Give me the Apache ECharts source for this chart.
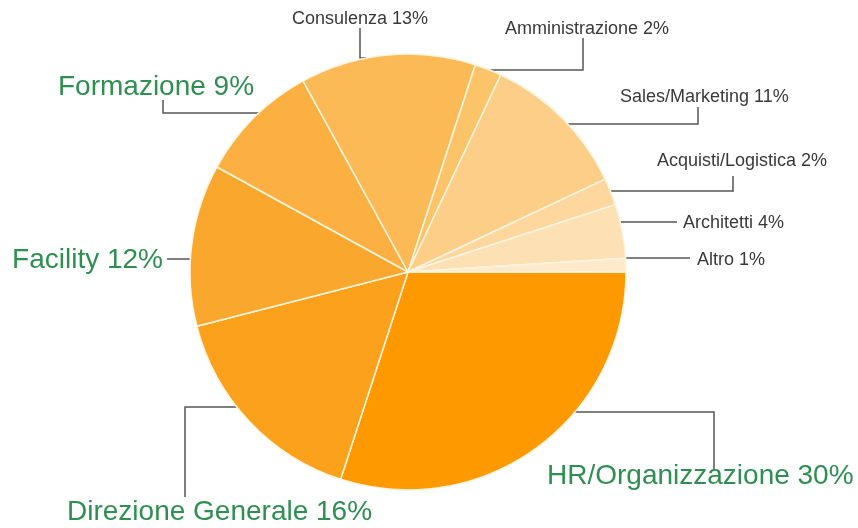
<!DOCTYPE html>
<html>
<head>
<meta charset="utf-8">
<script src="https://cdn.jsdelivr.net/npm/echarts@6/dist/echarts.min.js"></script>
<style>
html,body{margin:0;padding:0;background:#fff;}
#chart{width:858px;height:528px;}
</style>
</head>
<body>
<div id="chart"></div>
<script>
// ---- data ----
var categories = ['HR/Organizzazione', 'Direzione Generale', 'Facility', 'Formazione', 'Consulenza',
                  'Amministrazione', 'Sales/Marketing', 'Acquisti/Logistica', 'Architetti', 'Altro'];
var values = [30, 16, 12, 9, 13, 2, 11, 2, 4, 1];
var highlighted = ['HR/Organizzazione', 'Direzione Generale', 'Facility', 'Formazione'];

// ---- style / layout ----
var colors = ['#FF9900', '#FBA11C', '#FAA72E', '#FBB041', '#FCBA56',
              '#FCC469', '#FDCE88', '#FDD79E', '#FDE0B3', '#FEE9CB'];
var CX = 408, CY = 272, R = 218;
// text anchor: [x, y, align]
var textAnchor = [
  [547, 476, 'left'], [67, 512, 'left'], [163, 260, 'right'], [58, 87, 'left'], [292, 19, 'left'],
  [505, 29, 'left'], [620, 97, 'left'], [657, 161, 'left'], [683, 223, 'left'], [697, 260, 'left']
];
// guide line: [y of horizontal run, side (-1 left / 1 right), x of elbow/end, y end of vertical run or null]
var guide = [
  [412, 1, 714, 470], [407, -1, 185, 497], [259, -1, 167, null], [113, -1, 163, 100], [58, -1, 360, 28],
  [70, 1, 583, 38], [124, 1, 698, 107], [191, 1, 733, 176], [222, 1, 677, null], [258, 1, 690, null]
];

var seriesData = categories.map(function (c, i) {
  var big = highlighted.indexOf(c) >= 0;
  return {
    name: c,
    value: values[i],
    itemStyle: { color: colors[i] },
    label: big ? { fontSize: 28, color: '#2E8F50' } : { fontSize: 18, color: '#3a3a3a' }
  };
});

var chart = echarts.init(document.getElementById('chart'), null, { renderer: 'canvas' });
chart.setOption({
  backgroundColor: '#ffffff',
  animation: false,
  series: [{
    type: 'pie',
    center: [CX, CY],
    radius: R,
    startAngle: 0,
    clockwise: true,
    avoidLabelOverlap: false,
    itemStyle: { borderColor: '#FFF6E2', borderWidth: 1.5 },
    label: {
      show: true,
      position: 'outside',
      formatter: '{b} {c}%',
      fontFamily: '"Liberation Sans", Arial, sans-serif'
    },
    labelLine: { show: true, length: 10, length2: 10, smooth: false,
                 lineStyle: { color: '#555555', width: 1.5 } },
    labelLayout: function (params) {
      var i = params.dataIndex;
      var a = textAnchor[i], g = guide[i];
      var dy = g[0] - CY;
      var sx = CX + g[1] * Math.sqrt(Math.max(R * R - dy * dy, 0));
      var pts = [[sx, g[0]], [g[2], g[0]]];
      if (g[3] !== null) pts.push([g[2], g[3]]);
      return { x: a[0], y: a[1], align: a[2], verticalAlign: 'middle', labelLinePoints: pts };
    },
    emphasis: { disabled: true },
    data: seriesData
  }]
});
</script>
</body>
</html>
